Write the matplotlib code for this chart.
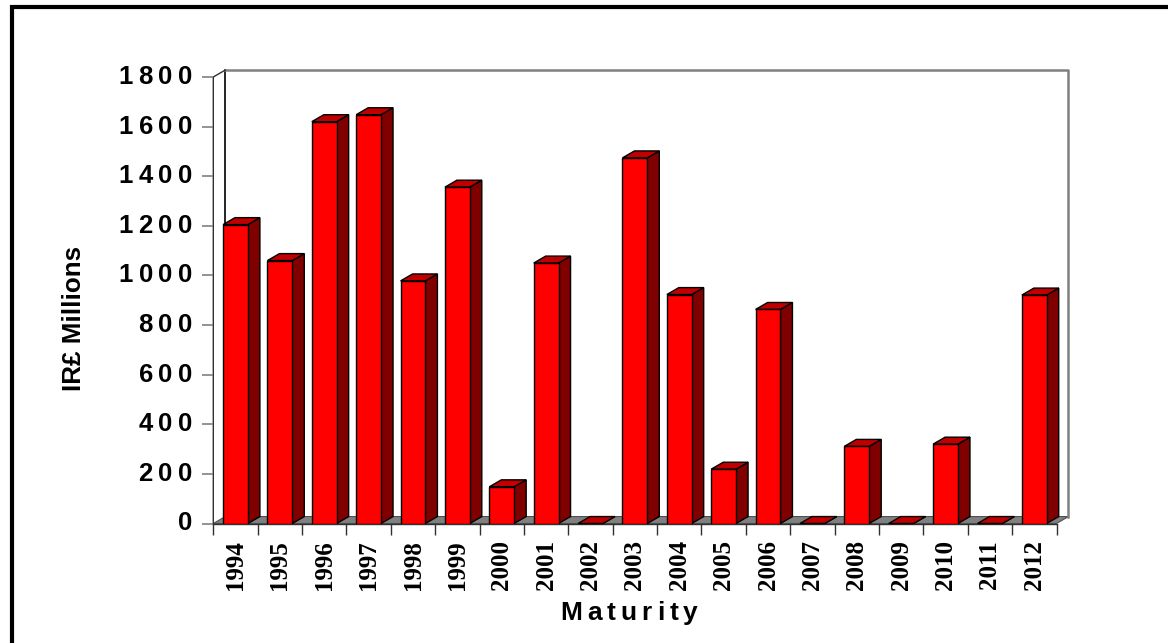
import numpy as np
import matplotlib.pyplot as plt
from matplotlib.patches import Polygon, Rectangle
from matplotlib.transforms import IdentityTransform

# IR£ millions maturing each year
years = [1994, 1995, 1996, 1997, 1998, 1999, 2000, 2001, 2002, 2003,
         2004, 2005, 2006, 2007, 2008, 2009, 2010, 2011, 2012]
amounts = [1205, 1060, 1620, 1648, 978, 1356, 148, 1050, 0, 1474,
           923, 219, 863, 0, 311, 0, 320, 0, 921]
yticks = [0, 200, 400, 600, 800, 1000, 1200, 1400, 1600, 1800]

W, H = 1168, 643
FRONT, SIDE, TOP = '#ff0000', '#800000', '#c00000'
GREY = '#808080'
SANS = 'Liberation Sans'
SERIF = 'Liberation Serif'

fig = plt.figure(figsize=(W / 100, H / 100), dpi=100)
ax = fig.add_axes([213.3 / W, 1 - 523.5 / H, (1056.5 - 213.3) / W, (523.5 - 77) / H])
n = len(years)
ymax = yticks[-1]
ax.set_xlim(0, n)
ax.set_ylim(0, ymax)
for s in ax.spines.values():
    s.set_visible(False)

# depth of the 3-d box, in data units
DX, DY = 0.27, 28.0

# floor and walls
ax.add_patch(Polygon([(0, 0), (n, 0), (n + DX, DY), (DX, DY)], closed=True,
                     fc=GREY, ec='#505050', lw=0.8, clip_on=False, zorder=1))
ax.plot([DX, DX], [DY, ymax + DY], color='black', lw=1.2, clip_on=False, zorder=1)
ax.plot([DX, n + DX, n + DX], [ymax + DY, ymax + DY, DY], color=GREY, lw=1.8,
        clip_on=False, zorder=1)
ax.plot([0, 0, DX], [0, ymax, ymax + DY], color='#303030', lw=1.0, clip_on=False, zorder=1)
ax.plot([0, n], [0, 0], color='#303030', lw=1.0, clip_on=False, zorder=2)

# bars: front face, side face, top face
bw = 0.56
for i, v in enumerate(amounts):
    x0 = i + (1 - bw) / 2
    x1 = x0 + bw
    kw = dict(closed=True, ec='black', lw=1.0, clip_on=False, zorder=3)
    ax.add_patch(Polygon([(x1, 0), (x1 + DX, DY), (x1 + DX, v + DY), (x1, v)], fc=SIDE, **kw))
    ax.add_patch(Polygon([(x0, v), (x1, v), (x1 + DX, v + DY), (x0 + DX, v + DY)], fc=TOP, **kw))
    if v > 0:
        ax.add_patch(Rectangle((x0, 0), bw, v, fc=FRONT, ec='black', lw=1.0, zorder=3))

# ticks
ax.set_yticks(yticks)
ax.tick_params(axis='y', length=8, width=1.2, color=GREY, labelleft=False)
ax.set_xticks(np.arange(n + 1))
ax.tick_params(axis='x', which='major', length=8, width=1.0, color='#303030', labelbottom=False)
ax.set_xticks(np.arange(n) + 0.5, minor=True)
ax.set_xticklabels([str(y) for y in years], minor=True, rotation=90,
                   fontfamily=SERIF, fontweight='bold', fontsize=18)
ax.tick_params(axis='x', which='minor', length=0, pad=12)


def tracked_text(x, y, s, gap, align='center', **kw):
    # place letters one by one so they get extra spacing between them
    r = fig.canvas.get_renderer()
    widths = []
    for ch in s:
        t = fig.text(0, 0, ch, **kw)
        widths.append(t.get_window_extent(r).width)
        t.remove()
    total = sum(widths) + gap * (len(s) - 1)
    start = x - total / 2 if align == 'center' else x - total
    for ch, w in zip(s, widths):
        fig.text(start, y, ch, transform=IdentityTransform(), ha='left', va='center', **kw)
        start += w + gap


tick_font = dict(fontsize=18.5, fontweight='bold', family=SANS)
for v in yticks:
    px, py = ax.transData.transform((0, v))
    tracked_text(px - 21, py, str(v), 5.5, align='right', **tick_font)

tracked_text(629, H - 613, 'Maturity', 5.0, fontsize=19, fontweight='bold', family=SANS)

fig.text(74 / W, 1 - 318 / H, 'IR£ Millions', rotation=90, ha='center', va='center',
         fontsize=18.7, fontweight='bold', family=SANS)

# black frame around the figure
fig.add_artist(Rectangle((11.5, -20), W + 20, H - 7 + 20, transform=IdentityTransform(),
                         fill=False, ec='black', lw=3.0))

fig.savefig('out.png', dpi=100)
